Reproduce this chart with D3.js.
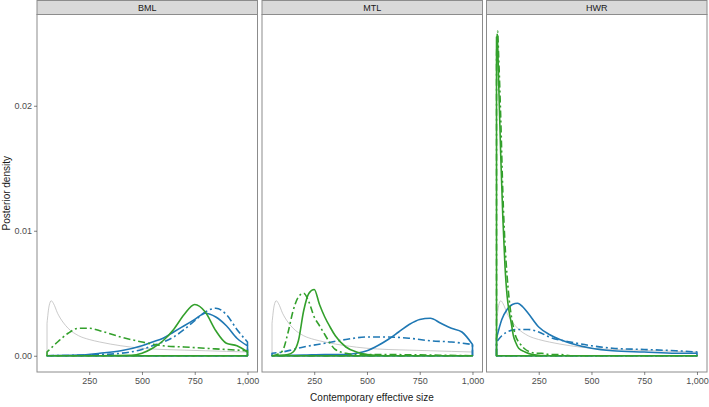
<!DOCTYPE html>
<html>
<head>
<meta charset="utf-8">
<script src="https://cdn.jsdelivr.net/npm/d3@7/dist/d3.min.js"></script>
<style>
  body { margin: 0; background: #fff; }
  svg { display: block; }
  text { font-family: "Liberation Sans", Arial, sans-serif; }
</style>
</head>
<body>
<svg id="chart" width="709" height="407"></svg>
<script>
// ---------------- data ----------------
const panelNames = ["BML", "MTL", "HWR"];
const xTicks = [250, 500, 750, 1000];
const yTicks = [0, 0.01, 0.02];
const xDomain = [50, 1000];
const yDomain = [0, 0.026];

// prior (same in all panels)
const priorX = [50, 60, 70, 80, 100, 125, 150, 200, 250, 300, 400, 500, 600, 700, 800, 900, 1000];
const priorY = [0.0026, 0.0040, 0.0044, 0.0042, 0.0034, 0.0027, 0.0022, 0.0016, 0.0013, 0.0011, 0.0008, 0.0006, 0.0005, 0.00045, 0.0004, 0.00035, 0.0003];

// BML
const bmlGreenSolidX = [50, 300, 450, 500, 550, 600, 650, 700, 750, 800, 850, 900, 950, 1000];
const bmlGreenSolidY = [0, 0, 0.00003, 0.0002, 0.0006, 0.0012, 0.0021, 0.0033, 0.0041, 0.0035, 0.0020, 0.0010, 0.0008, 0.0003];
const bmlGreenDashX = [50, 100, 150, 200, 250, 300, 400, 500, 600, 700, 800, 900, 1000];
const bmlGreenDashY = [0.0003, 0.0011, 0.0018, 0.0022, 0.0022, 0.0020, 0.0015, 0.0011, 0.0008, 0.0007, 0.0006, 0.0005, 0.0004];
const bmlBlueSolidX = [50, 200, 300, 400, 500, 550, 600, 650, 700, 750, 800, 850, 900, 950, 1000];
const bmlBlueSolidY = [0, 0.00005, 0.0002, 0.0004, 0.0008, 0.0011, 0.0014, 0.0019, 0.0024, 0.0029, 0.0034, 0.0031, 0.0024, 0.0014, 0.0008];
const bmlBlueDashX = [50, 300, 400, 500, 550, 600, 650, 700, 750, 800, 850, 900, 950, 1000];
const bmlBlueDashY = [0, 0.0001, 0.0002, 0.0005, 0.0008, 0.0011, 0.0015, 0.0021, 0.0028, 0.0035, 0.0038, 0.0033, 0.0021, 0.0011];

// MTL
const mtlGreenSolidX = [50, 125, 150, 175, 200, 225, 250, 275, 300, 325, 350, 400, 450, 500, 600, 1000];
const mtlGreenSolidY = [0, 0.0001, 0.0003, 0.0012, 0.0036, 0.0050, 0.0053, 0.0041, 0.0031, 0.0023, 0.0016, 0.0007, 0.0003, 0.0001, 0, 0];
const mtlGreenDashX = [50, 75, 100, 125, 150, 175, 200, 225, 250, 275, 300, 325, 350, 400, 450, 500, 1000];
const mtlGreenDashY = [0, 0.0001, 0.0004, 0.0018, 0.0036, 0.0047, 0.0050, 0.0043, 0.0031, 0.0024, 0.0017, 0.0010, 0.0005, 0.0002, 0.0001, 0.0001, 0];
const mtlBlueSolidX = [50, 200, 300, 400, 450, 500, 550, 600, 650, 700, 750, 800, 850, 900, 950, 1000];
const mtlBlueSolidY = [0, 0.00005, 0.0001, 0.0001, 0.0002, 0.0004, 0.0008, 0.0013, 0.0019, 0.0025, 0.0029, 0.0030, 0.0026, 0.0022, 0.0019, 0.0009];
const mtlBlueDashX = [50, 100, 150, 200, 300, 400, 500, 600, 700, 800, 900, 1000];
const mtlBlueDashY = [0.0002, 0.0003, 0.0005, 0.0007, 0.0010, 0.0013, 0.0015, 0.0015, 0.0014, 0.0012, 0.0011, 0.0009];

// HWR
const hwrGreenSolidX = [50, 55, 60, 70, 80, 90, 100, 110, 120, 130, 140, 155, 185, 220, 300, 1000];
const hwrGreenSolidY = [0.0255, 0.0250, 0.0220, 0.0160, 0.0110, 0.0072, 0.0048, 0.0035, 0.0026, 0.0016, 0.0011, 0.0006, 0.0003, 0.0001, 0, 0];
const hwrGreenDashX = [50, 55, 60, 70, 80, 90, 100, 110, 120, 130, 140, 160, 180, 210, 240, 265, 300, 350, 400, 1000];
const hwrGreenDashY = [0.0240, 0.0260, 0.0240, 0.0190, 0.0130, 0.0090, 0.0064, 0.0045, 0.0032, 0.0023, 0.0016, 0.0010, 0.0006, 0.0003, 0.0002, 0.0002, 0.0001, 0.0001, 0, 0];
const hwrBlueSolidX = [50, 75, 100, 125, 150, 175, 200, 250, 300, 350, 400, 500, 600, 750, 900, 1000];
const hwrBlueSolidY = [0.0014, 0.0029, 0.0037, 0.0041, 0.0042, 0.0039, 0.0034, 0.0023, 0.0017, 0.0013, 0.0010, 0.0006, 0.0004, 0.0003, 0.0002, 0.0002];
const hwrBlueDashX = [50, 75, 100, 150, 200, 250, 300, 400, 500, 600, 750, 900, 1000];
const hwrBlueDashY = [0.0011, 0.0016, 0.0019, 0.0021, 0.0021, 0.0019, 0.0015, 0.0011, 0.0008, 0.0006, 0.0005, 0.0004, 0.0003];

// ---------------- build ----------------
const GREEN = "#33a02c", BLUE = "#1f78b4", GREY = "#bdbdbd";
const DASH = "7,3,2,3";

function series(xs, ys) { return xs.map((x, i) => [x, ys[i]]); }

const panelSeries = {
  BML: [
    { d: series(priorX, priorY), color: GREY, w: 0.8, dash: null },
    { d: series(bmlBlueDashX, bmlBlueDashY), color: BLUE, w: 1.6, dash: DASH },
    { d: series(bmlBlueSolidX, bmlBlueSolidY), color: BLUE, w: 1.6, dash: null },
    { d: series(bmlGreenDashX, bmlGreenDashY), color: GREEN, w: 1.6, dash: DASH },
    { d: series(bmlGreenSolidX, bmlGreenSolidY), color: GREEN, w: 1.6, dash: null }
  ],
  MTL: [
    { d: series(priorX, priorY), color: GREY, w: 0.8, dash: null },
    { d: series(mtlBlueDashX, mtlBlueDashY), color: BLUE, w: 1.6, dash: DASH },
    { d: series(mtlBlueSolidX, mtlBlueSolidY), color: BLUE, w: 1.6, dash: null },
    { d: series(mtlGreenDashX, mtlGreenDashY), color: GREEN, w: 1.6, dash: DASH },
    { d: series(mtlGreenSolidX, mtlGreenSolidY), color: GREEN, w: 1.6, dash: null }
  ],
  HWR: [
    { d: series(priorX, priorY), color: GREY, w: 0.8, dash: null },
    { d: series(hwrBlueDashX, hwrBlueDashY), color: BLUE, w: 1.6, dash: DASH },
    { d: series(hwrBlueSolidX, hwrBlueSolidY), color: BLUE, w: 1.6, dash: null },
    { d: series(hwrGreenDashX, hwrGreenDashY), color: GREEN, w: 1.6, dash: DASH },
    { d: series(hwrGreenSolidX, hwrGreenSolidY), color: GREEN, w: 1.6, dash: null }
  ]
};

const svg = d3.select("#chart");
const panelLefts = [37, 262, 486.5];
const panelW = 220.5;
const stripTop = 0.5, stripH = 14, panelTop = 14.5, panelBottom = 372;

// expanded domains (ggplot-like 5%)
const xSpan = xDomain[1] - xDomain[0];
const ySpan = yDomain[1] - yDomain[0];
const y = d3.scaleLinear()
  .domain([yDomain[0] - 0.05 * ySpan, yDomain[1] + 0.05 * ySpan])
  .range([panelBottom, panelTop]);

const textColor = "#4d4d4d";

panelNames.forEach((name, pi) => {
  const left = panelLefts[pi];
  const x = d3.scaleLinear()
    .domain([xDomain[0] - 0.05 * xSpan, xDomain[1] + 0.05 * xSpan])
    .range([left, left + panelW]);

  const g = svg.append("g");

  // strip
  g.append("rect")
    .attr("x", left).attr("y", stripTop)
    .attr("width", panelW).attr("height", stripH)
    .attr("fill", "#d9d9d9").attr("stroke", "#8c8c8c").attr("stroke-width", 1);
  g.append("text")
    .attr("x", left + panelW / 2).attr("y", stripTop + stripH / 2 + 3.2)
    .attr("text-anchor", "middle").attr("font-size", 9).attr("fill", "#1a1a1a")
    .text(name);

  // panel background
  g.append("rect")
    .attr("x", left).attr("y", panelTop)
    .attr("width", panelW).attr("height", panelBottom - panelTop)
    .attr("fill", "#fff");

  const clipId = "clip" + pi;
  svg.append("clipPath").attr("id", clipId)
    .append("rect").attr("x", left).attr("y", panelTop)
    .attr("width", panelW).attr("height", panelBottom - panelTop);

  const line = d3.line()
    .x(d => x(d[0])).y(d => y(d[1]))
    .curve(d3.curveMonotoneX);

  const lines = g.append("g").attr("clip-path", `url(#${clipId})`);
  panelSeries[name].forEach(s => {
    const pts = s.d;
    const first = pts[0], last = pts[pts.length - 1];
    const curve = line(pts);
    const path = "M" + x(first[0]) + "," + y(0) + "L" + curve.slice(1) +
      "L" + x(last[0]) + "," + y(0) + "Z";
    lines.append("path")
      .attr("d", path)
      .attr("fill", "none")
      .attr("stroke", s.color)
      .attr("stroke-width", s.w)
      .attr("stroke-linejoin", "round")
      .attr("stroke-dasharray", s.dash);
  });

  // panel border
  g.append("rect")
    .attr("x", left).attr("y", panelTop)
    .attr("width", panelW).attr("height", panelBottom - panelTop)
    .attr("fill", "none").attr("stroke", "#8c8c8c").attr("stroke-width", 1);

  // x axis
  const xAxis = d3.axisBottom(x).tickValues(xTicks).tickFormat(d3.format(",")).tickSize(3).tickPadding(3);
  const xa = svg.append("g").attr("transform", `translate(0,${panelBottom})`).call(xAxis);
  xa.select(".domain").remove();
  xa.selectAll(".tick line").attr("stroke", "#333").attr("stroke-width", 0.6);
  xa.selectAll(".tick text").attr("fill", textColor).attr("font-size", 9)
    .attr("font-family", "Liberation Sans, Arial, sans-serif");

  if (pi === 0) {
    const yAxis = d3.axisLeft(y).tickValues(yTicks).tickFormat(d3.format(".2f")).tickSize(3).tickPadding(2);
    const ya = svg.append("g").attr("transform", `translate(${left},0)`).call(yAxis);
    ya.select(".domain").remove();
    ya.selectAll(".tick line").attr("stroke", "#333").attr("stroke-width", 0.6);
    ya.selectAll(".tick text").attr("fill", textColor).attr("font-size", 9)
      .attr("font-family", "Liberation Sans, Arial, sans-serif");
  }
});

// axis titles
svg.append("text")
  .attr("x", 372).attr("y", 401)
  .attr("text-anchor", "middle").attr("font-size", 10).attr("fill", "#1a1a1a")
  .text("Contemporary effective size");
svg.append("text")
  .attr("transform", `translate(10,${(panelTop + panelBottom) / 2}) rotate(-90)`)
  .attr("text-anchor", "middle").attr("font-size", 10).attr("fill", "#1a1a1a")
  .text("Posterior density");
</script>
</body>
</html>
